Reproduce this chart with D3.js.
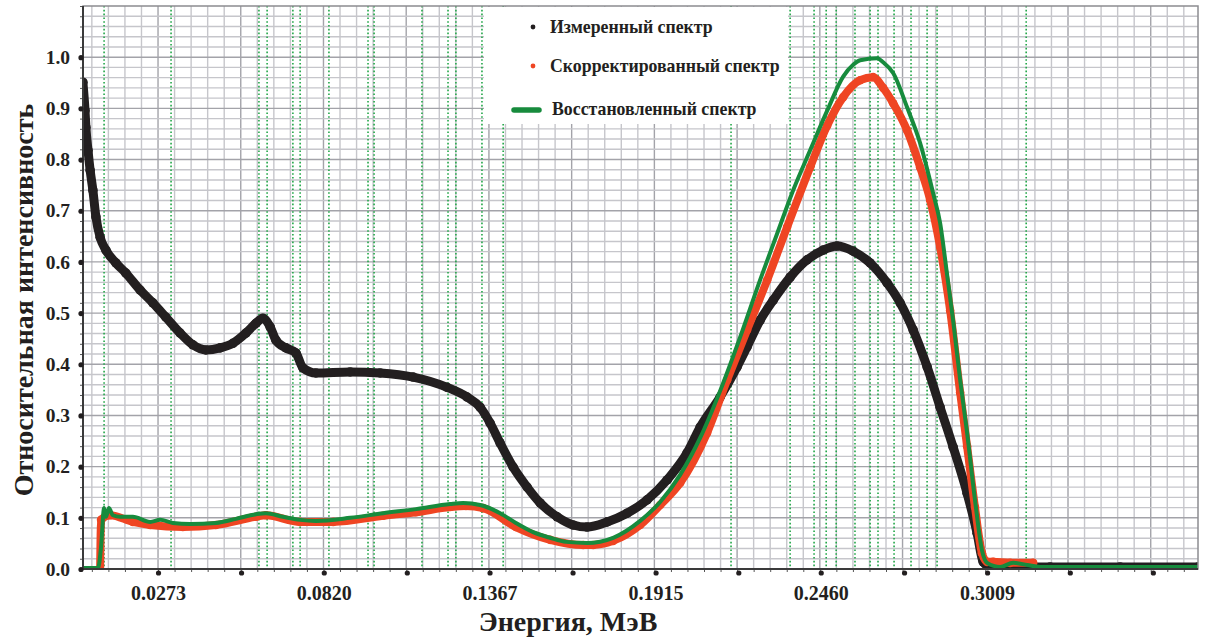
<!DOCTYPE html>
<html>
<head>
<meta charset="utf-8">
<script src="https://cdn.jsdelivr.net/npm/d3@7"></script>
<style>
  html, body { margin: 0; padding: 0; background: #ffffff; }
  svg { display: block; font-family: "Liberation Serif", "Times New Roman", serif; }
</style>
</head>
<body>
<svg id="chart" width="1205" height="639"></svg>
<script>
// ---- Измеренный спектр (energy, MeV / relative intensity) ----
const measuredEnergy = [0.0025,0.0032,0.0035,0.0042,0.0049,0.0058,0.0068,0.0082,0.0101,0.0134,0.0167,0.0214,0.0256,0.0299,0.0346,0.0388,0.0431,0.0478,0.0520,0.0563,0.0596,0.0619,0.0643,0.0662,0.0695,0.0728,0.0751,0.0794,0.0907,0.1006,0.1115,0.1227,0.1293,0.1336,0.1369,0.1402,0.1445,0.1491,0.1534,0.1590,0.1643,0.1689,0.1755,0.1821,0.1887,0.1953,0.2019,0.2062,0.2128,0.2184,0.2217,0.2260,0.2303,0.2359,0.2415,0.2468,0.2514,0.2567,0.2623,0.2679,0.2722,0.2765,0.2811,0.2854,0.2897,0.2943,0.2976,0.2996,0.3019,0.3217,0.3448,0.3705];
const measuredIntensity = [0.951,0.896,0.863,0.818,0.779,0.740,0.688,0.648,0.623,0.598,0.578,0.545,0.520,0.492,0.461,0.438,0.428,0.432,0.441,0.461,0.480,0.490,0.473,0.447,0.432,0.422,0.393,0.383,0.385,0.383,0.375,0.355,0.336,0.316,0.285,0.246,0.199,0.160,0.129,0.102,0.086,0.082,0.092,0.109,0.135,0.174,0.227,0.277,0.336,0.395,0.434,0.486,0.525,0.570,0.604,0.623,0.631,0.621,0.598,0.559,0.520,0.467,0.395,0.316,0.238,0.148,0.070,0.014,0.004,0.004,0.004,0.004];

// ---- Скорректированный спектр ----
const correctedEnergy = [0.0082,0.0085,0.0115,0.0190,0.0247,0.0355,0.0464,0.0596,0.0629,0.0742,0.0851,0.1016,0.1124,0.1237,0.1289,0.1346,0.1454,0.1567,0.1676,0.1709,0.1775,0.1864,0.1930,0.1996,0.2085,0.2151,0.2217,0.2283,0.2349,0.2425,0.2481,0.2534,0.2590,0.2633,0.2666,0.2699,0.2745,0.2788,0.2821,0.2854,0.2887,0.2920,0.2943,0.2969,0.2992,0.3009,0.3029,0.3085,0.3161];
const correctedIntensity = [0.002,0.096,0.105,0.092,0.086,0.082,0.086,0.102,0.105,0.092,0.092,0.104,0.111,0.121,0.123,0.119,0.082,0.057,0.047,0.047,0.055,0.086,0.125,0.168,0.266,0.369,0.467,0.564,0.668,0.785,0.866,0.922,0.955,0.961,0.940,0.910,0.857,0.785,0.721,0.629,0.505,0.345,0.240,0.121,0.031,0.014,0.014,0.012,0.012];

// ---- Восстановленный спектр ----
const restoredEnergy = [0.0025,0.0075,0.0085,0.0095,0.0101,0.0111,0.0124,0.0148,0.0190,0.0247,0.0280,0.0322,0.0379,0.0464,0.0530,0.0596,0.0629,0.0685,0.0742,0.0794,0.0907,0.1016,0.1124,0.1237,0.1280,0.1336,0.1402,0.1454,0.1511,0.1567,0.1620,0.1689,0.1775,0.1864,0.1930,0.1996,0.2062,0.2128,0.2194,0.2260,0.2316,0.2369,0.2425,0.2481,0.2534,0.2567,0.2590,0.2646,0.2666,0.2699,0.2745,0.2788,0.2831,0.2854,0.2877,0.2897,0.2920,0.2943,0.2969,0.2992,0.3009,0.3052,0.3095,0.3141,0.3184,0.3705];
const restoredIntensity = [0.002,0.002,0.043,0.119,0.102,0.119,0.105,0.102,0.102,0.092,0.096,0.090,0.088,0.090,0.098,0.107,0.109,0.102,0.096,0.094,0.100,0.109,0.117,0.127,0.129,0.125,0.109,0.090,0.072,0.061,0.053,0.051,0.061,0.094,0.131,0.184,0.256,0.348,0.453,0.565,0.655,0.740,0.818,0.895,0.962,0.985,0.994,0.998,0.990,0.969,0.902,0.832,0.734,0.676,0.575,0.485,0.370,0.266,0.135,0.037,0.012,0.004,0.012,0.008,0.004,0.004];

// ---- Энергии вертикальных маркеров (пунктир) ----
const markerEnergies = [0.0095,0.0316,0.0606,0.0633,0.0718,0.0742,0.0837,0.0966,0.0986,0.1144,0.1230,0.1256,0.1342,0.1412,0.2164,0.2359,0.2438,0.2478,0.2511,0.2573,0.2623,0.2649,0.2702,0.2758,0.2811,0.2844,0.3138];

// ---- Оси ----
const xTickValues = [0.0273,0.0547,0.0820,0.1094,0.1367,0.1641,0.1915,0.2188,0.2460,0.2735,0.3009,0.3282,0.3556];
const xTickLabels = ["0.0273","","0.0820","","0.1367","","0.1915","","0.2460","","0.3009","",""];
const yTickValues = [0.0,0.1,0.2,0.3,0.4,0.5,0.6,0.7,0.8,0.9,1.0];
const legendLabels = ["Измеренный спектр","Скорректированный спектр","Восстановленный спектр"];

const COLORS = {
  measured: "#231f20",
  corrected: "#ef4523",
  restored: "#178b3d",
  marker: "#22a648",
  gridMinor: "#c6c6cb",
  gridMajor: "#a3a3a9",
  frame: "#8c8c90",
  text: "#231f20"
};

const svg = d3.select("#chart");
const plot = { left: 83, right: 1198, top: 6, bottom: 569 };

const x = d3.scaleLinear().domain([0.00254, 0.3705]).range([plot.left, plot.right]);
const y = d3.scaleLinear().domain([0, 1.1]).range([plot.bottom, plot.top]);

svg.append("defs").append("clipPath").attr("id", "plot-clip")
  .append("rect")
  .attr("x", plot.left).attr("y", plot.top)
  .attr("width", plot.right - plot.left).attr("height", plot.bottom - plot.top);

// ---- Сетка ----
const gridStepX = 0.0273 / 5;
const vGrid = d3.range(1, Math.floor(x.domain()[1] / gridStepX) + 1).map(k => ({ v: k * gridStepX, major: k % 5 === 0 }));
const hGrid = d3.range(1, 56).map(k => ({ v: k * 0.02, major: k % 5 === 0 }));

const grid = svg.append("g").attr("class", "grid");
grid.selectAll("line.v").data(vGrid.filter(d => x(d.v) > plot.left + 1 && x(d.v) < plot.right - 1)).join("line")
  .attr("class", "v")
  .attr("x1", d => x(d.v)).attr("x2", d => x(d.v))
  .attr("y1", plot.top).attr("y2", plot.bottom)
  .attr("stroke", d => d.major ? COLORS.gridMajor : COLORS.gridMinor)
  .attr("stroke-width", 1.4);
grid.selectAll("line.h").data(hGrid.filter(d => y(d.v) > plot.top + 1)).join("line")
  .attr("class", "h")
  .attr("x1", plot.left).attr("x2", plot.right)
  .attr("y1", d => y(d.v)).attr("y2", d => y(d.v))
  .attr("stroke", d => d.major ? COLORS.gridMajor : COLORS.gridMinor)
  .attr("stroke-width", 1.4);

// ---- Вертикальные пунктирные маркеры ----
svg.append("g").attr("class", "markers")
  .selectAll("line").data(markerEnergies).join("line")
  .attr("x1", d => x(d)).attr("x2", d => x(d))
  .attr("y1", plot.top).attr("y2", plot.bottom)
  .attr("stroke", COLORS.marker)
  .attr("stroke-width", 1.6)
  .attr("stroke-dasharray", "1.6 2.2");

// ---- Данные ----
const series = (ex, iy) => d3.zip(ex, iy).map(([e, v]) => ({ e, v }));
const measured = series(measuredEnergy, measuredIntensity);
const corrected = series(correctedEnergy, correctedIntensity);
const restored = series(restoredEnergy, restoredIntensity);

const line = d3.line().x(d => x(d.e)).y(d => y(d.v)).curve(d3.curveMonotoneX);
const dataLayer = svg.append("g").attr("clip-path", "url(#plot-clip)");

// измеренные точки — плотная полоса
dataLayer.append("path").datum(measured)
  .attr("d", line)
  .attr("fill", "none")
  .attr("stroke", COLORS.measured)
  .attr("stroke-width", 9)
  .attr("stroke-linejoin", "round")
  .attr("stroke-linecap", "round");
dataLayer.selectAll("circle.m").data(measured).join("circle")
  .attr("class", "m")
  .attr("cx", d => x(d.e)).attr("cy", d => y(d.v)).attr("r", 4.8)
  .attr("fill", COLORS.measured);

// скорректированные точки
dataLayer.append("path").datum(corrected)
  .attr("d", line)
  .attr("fill", "none")
  .attr("stroke", COLORS.corrected)
  .attr("stroke-width", 8)
  .attr("stroke-linejoin", "round")
  .attr("stroke-linecap", "round");
dataLayer.selectAll("circle.c").data(corrected.slice(1)).join("circle")
  .attr("class", "c")
  .attr("cx", d => x(d.e)).attr("cy", d => y(d.v)).attr("r", 4.3)
  .attr("fill", COLORS.corrected);

// восстановленный спектр — линия
dataLayer.append("path").datum(restored)
  .attr("d", line)
  .attr("fill", "none")
  .attr("stroke", COLORS.restored)
  .attr("stroke-width", 4)
  .attr("stroke-linejoin", "round");

// ---- Рамка ----
svg.append("rect")
  .attr("x", plot.left).attr("y", plot.top)
  .attr("width", plot.right - plot.left).attr("height", plot.bottom - plot.top)
  .attr("fill", "none").attr("stroke", COLORS.frame).attr("stroke-width", 1.5);

// ---- Легенда ----
const legend = svg.append("g").attr("class", "legend");
legend.append("rect")
  .attr("x", 484).attr("y", plot.top + 1).attr("width", 304).attr("height", 117)
  .attr("fill", "#ffffff");
const legendRows = [
  { label: legendLabels[0], y: 33, kind: "dot", color: COLORS.measured, tx: 550 },
  { label: legendLabels[1], y: 72, kind: "dot", color: COLORS.corrected, tx: 550 },
  { label: legendLabels[2], y: 115, kind: "line", color: COLORS.restored, tx: 552 }
];
legendRows.forEach(r => {
  if (r.kind === "dot") {
    legend.append("circle").attr("cx", 533).attr("cy", r.y - 6).attr("r", 2.4).attr("fill", r.color);
  } else {
    legend.append("line").attr("x1", 514).attr("x2", 539).attr("y1", r.y - 5).attr("y2", r.y - 5)
      .attr("stroke", r.color).attr("stroke-width", 5.5).attr("stroke-linecap", "round");
  }
  legend.append("text").attr("x", r.tx).attr("y", r.y)
    .attr("font-size", 17.8).attr("font-weight", "bold").attr("fill", COLORS.text)
    .text(r.label);
});

// ---- Ось X ----
const xAxisMinor = d3.axisBottom(x)
  .tickValues(vGrid.map(d => d.v).filter(v => x(v) < plot.right - 1))
  .tickSize(3).tickFormat("");
svg.append("g").attr("transform", `translate(0,${plot.bottom})`).call(xAxisMinor)
  .call(g => g.select(".domain").remove())
  .call(g => g.selectAll("line").attr("stroke", "#555"));

const xAxis = d3.axisBottom(x)
  .tickValues(xTickValues)
  .tickSize(0).tickPadding(17)
  .tickFormat((d, i) => xTickLabels[i]);
const gx = svg.append("g").attr("transform", `translate(0,${plot.bottom})`).call(xAxis);
gx.select(".domain").attr("stroke", "#3a3a3a").attr("stroke-width", 2.2)
  .attr("d", `M${plot.left},0H${plot.right}`);
gx.selectAll("text")
  .attr("font-family", "Liberation Serif, serif")
  .attr("font-size", 20).attr("font-weight", "bold").attr("fill", COLORS.text);
gx.selectAll(".tick").append("circle").attr("cx", 0).attr("cy", 4).attr("r", 2.6).attr("fill", COLORS.text);

// ---- Ось Y ----
const yAxisMinor = d3.axisLeft(y)
  .tickValues(d3.range(0, 56).map(k => k * 0.02))
  .tickSize(3).tickFormat("");
svg.append("g").attr("transform", `translate(${plot.left},0)`).call(yAxisMinor)
  .call(g => g.select(".domain").remove())
  .call(g => g.selectAll("line").attr("stroke", "#555"));

const yAxis = d3.axisLeft(y)
  .tickValues(yTickValues)
  .tickSize(0).tickPadding(13)
  .tickFormat(d3.format(".1f"));
const gy = svg.append("g").attr("transform", `translate(${plot.left},0)`).call(yAxis);
gy.select(".domain").attr("stroke", "#3a3a3a").attr("stroke-width", 2)
  .attr("d", `M0,${plot.top}V${plot.bottom}`);
gy.selectAll("text")
  .attr("font-family", "Liberation Serif, serif")
  .attr("font-size", 19.5).attr("font-weight", "bold").attr("fill", COLORS.text);
gy.selectAll(".tick").append("circle").attr("cx", -2).attr("cy", 0).attr("r", 2.6).attr("fill", COLORS.text);

// ---- Подписи осей ----
svg.append("text")
  .attr("x", 568).attr("y", 631)
  .attr("text-anchor", "middle")
  .attr("font-size", 28).attr("font-weight", "bold").attr("fill", COLORS.text)
  .text("Энергия, МэВ");
svg.append("text")
  .attr("transform", "translate(33,300) rotate(-90)")
  .attr("text-anchor", "middle")
  .attr("font-size", 28).attr("font-weight", "bold").attr("fill", COLORS.text)
  .text("Относительная интенсивность");
</script>
</body>
</html>
